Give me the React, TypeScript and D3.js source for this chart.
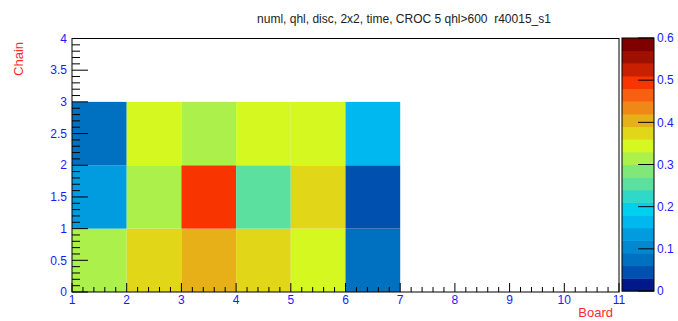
import * as d3 from 'd3';

// bottom-to-top bands of the colour palette (0 .. 0.6, 20 contours)
const palette = [
  '#00188a', '#0050b0', '#0070c0', '#0088d0', '#009ce0',
  '#00b8f0', '#00d0f0', '#30d8c8', '#5ce0a0', '#80e878',
  '#acf04c', '#d4f820', '#e2d618', '#e8b018', '#f08818',
  '#f86010', '#f83400', '#c82000', '#a01000', '#800000',
];

const boards = [1, 2, 3, 4, 5, 6];
const chains = [0, 1, 2];
// values[chain][board index]
const chain0 = [0.315, 0.375, 0.405, 0.375, 0.345, 0.085];
const chain1 = [0.135, 0.315, 0.495, 0.255, 0.375, 0.05];
const chain2 = [0.08, 0.345, 0.315, 0.345, 0.345, 0.165];
const values = [chain0, chain1, chain2];

const xTicks = [1, 2, 3, 4, 5, 6, 7, 8, 9, 10, 11];
const yTicks = [0, 0.5, 1, 1.5, 2, 2.5, 3, 3.5, 4];
const zTicks = [0, 0.1, 0.2, 0.3, 0.4, 0.5, 0.6];

const W = 678;
const H = 321;
const font = '"Liberation Sans", Arial, Helvetica, sans-serif';
const blue = '#1a1aff';
const red = '#ff2a2a';

export default function App() {
  const x = d3.scaleLinear().domain([1, 11]).range([72, 619]);
  const y = d3.scaleLinear().domain([0, 4]).range([292, 38.5]);
  const z = d3.scaleLinear().domain([0, 0.6]).range([291, 38]);
  const color = d3.scaleQuantize<string>().domain([0, 0.6]).range(palette);

  const xMinor = d3.range(1, 11.001, 0.2).map((v) => +v.toFixed(2));
  const yMinor = d3.range(0, 4.001, 0.1).map((v) => +v.toFixed(2));
  const bandW = 0.6 / palette.length;

  const [x0, x1] = x.range();
  const [y0, y1] = y.range();
  const cbL = 622;
  const cbR = 654;

  return (
    <svg width={W} height={H} style={{ position: 'absolute', left: 0, top: 0, background: '#fff' }} fontFamily={font}>
      <rect x={0} y={0} width={W} height={H} fill="#fff" />
      <text x={404} y={23} textAnchor="middle" fontSize={12} fill="#222" style={{ whiteSpace: 'pre' }}>
        {'numl, qhl, disc, 2x2, time, CROC 5 qhl>600  r40015_s1'}
      </text>

      {/* cells */}
      {chains.map((c) =>
        boards.map((b, i) => (
          <rect
            key={`${c}-${b}`}
            x={x(b)}
            y={y(c + 1)}
            width={x(b + 1) - x(b)}
            height={y(c) - y(c + 1)}
            fill={color(values[c][i])}
          />
        ))
      )}

      {/* ticks */}
      {xMinor.map((v) => {
        const major = Math.abs(v - Math.round(v)) < 1e-6;
        return <line key={`xt${v}`} x1={x(v)} x2={x(v)} y1={y0} y2={y0 - (major ? 9 : 5)} stroke="#000" />;
      })}
      {yMinor.map((v) => {
        const major = Math.abs(v * 2 - Math.round(v * 2)) < 1e-6;
        return <line key={`yt${v}`} x1={x0} x2={x0 + (major ? 16 : 8)} y1={y(v)} y2={y(v)} stroke="#000" />;
      })}

      <rect x={x0} y={y1} width={x1 - x0} height={y0 - y1} fill="none" stroke="#000" strokeWidth={1} />

      {xTicks.map((v) => (
        <text key={`xl${v}`} x={x(v)} y={304} textAnchor="middle" fontSize={12} fill={blue}>
          {v}
        </text>
      ))}
      {yTicks.map((v) => (
        <text key={`yl${v}`} x={67} y={y(v)} dy="0.35em" textAnchor="end" fontSize={12} fill={blue}>
          {v}
        </text>
      ))}

      <text x={613} y={317} textAnchor="end" fontSize={13} fill={red}>
        Board
      </text>
      <text transform={`translate(23,42) rotate(-90)`} textAnchor="end" fontSize={13} fill={red}>
        Chain
      </text>

      {/* colour bar */}
      {palette.map((col, i) => (
        <rect key={`cb${i}`} x={cbL} y={z((i + 1) * bandW)} width={cbR - cbL} height={z(i * bandW) - z((i + 1) * bandW) + 0.5} fill={col} />
      ))}
      <rect x={cbL} y={z(0.6)} width={cbR - cbL} height={z(0) - z(0.6)} fill="none" stroke="#000" />
      {zTicks.map((v) => (
        <g key={`zt${v}`}>
          <line x1={cbR} x2={cbR - 16} y1={z(v)} y2={z(v)} stroke="#000" />
          <text x={cbR + 3} y={z(v)} dy="0.35em" fontSize={12} fill={blue}>
            {v}
          </text>
        </g>
      ))}
    </svg>
  );
}
